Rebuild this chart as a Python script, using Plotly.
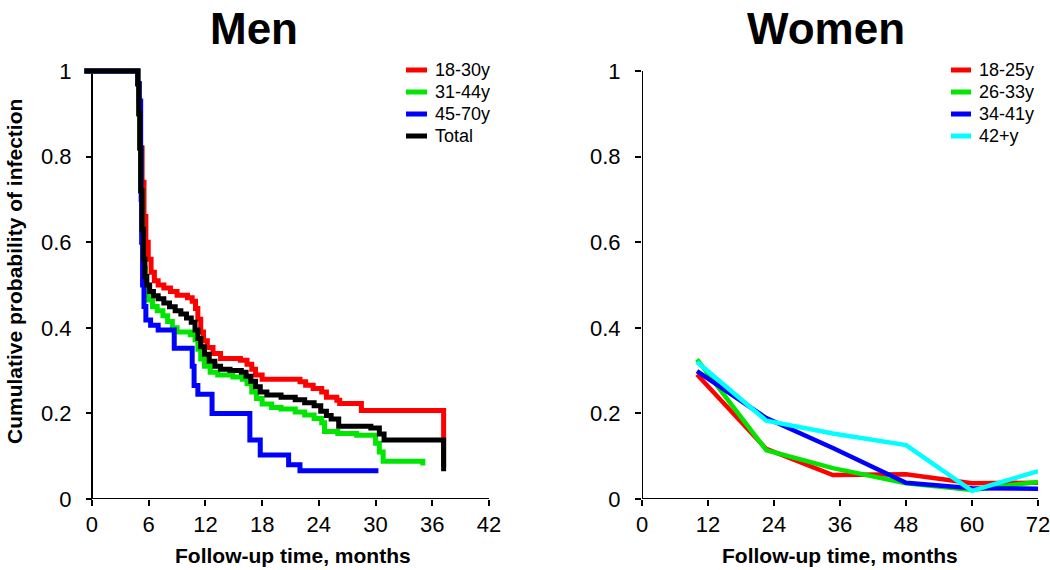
import plotly.graph_objects as go

W, H = 1050, 570

# ---------------- data ----------------
men_groups = ["18-30y", "31-44y", "45-70y", "Total"]
men_colors = ["#FF0000", "#00E600", "#0000FF", "#000000"]

men_t_18_30 = [-0.8, 4.85, 4.95, 5.1, 5.3, 5.5, 5.7, 5.95, 6.25, 6.6, 7.0, 7.6, 8.3, 9.0, 10.1,
               10.6, 10.95, 11.2, 11.5, 11.8, 12.2, 12.8, 13.6, 15.7, 16.4, 16.9, 17.3, 18.0,
               22.0, 22.6, 23.4, 24.3, 24.8, 25.9, 26.2, 28.5, 37.2]
men_s_18_30 = [1.0, 0.97, 0.9, 0.82, 0.74, 0.66, 0.6, 0.56, 0.53, 0.51, 0.5, 0.493, 0.485, 0.476, 0.47,
               0.462, 0.445, 0.42, 0.39, 0.37, 0.354, 0.34, 0.328, 0.324, 0.315, 0.303, 0.29, 0.28,
               0.274, 0.266, 0.258, 0.25, 0.238, 0.231, 0.223, 0.207, 0.075]

men_t_31_44 = [-0.8, 4.85, 4.95, 5.05, 5.15, 5.3, 5.45, 5.65, 5.95, 6.4, 6.9, 7.5, 8.0, 8.5, 9.0,
               10.4, 10.9, 11.2, 11.5, 11.9, 12.5, 13.3, 14.9, 15.9, 16.4, 16.9, 17.4, 18.0, 19.0,
               20.0, 21.5, 22.5, 23.5, 24.3, 24.6, 26.0, 28.0, 30.0, 30.4, 30.8, 35.0]
men_s_31_44 = [1.0, 0.97, 0.9, 0.82, 0.72, 0.62, 0.54, 0.49, 0.465, 0.45, 0.44, 0.428, 0.415, 0.4, 0.39,
               0.384, 0.372, 0.35, 0.327, 0.31, 0.296, 0.29, 0.285, 0.28, 0.27, 0.25, 0.235, 0.222, 0.214,
               0.21, 0.203, 0.196, 0.188, 0.178, 0.158, 0.153, 0.149, 0.13, 0.11, 0.088, 0.078]

men_t_45_70 = [-0.8, 4.85, 5.0, 5.15, 5.2, 5.25, 5.35, 5.5, 5.7, 6.2, 7.0, 8.7, 10.6, 10.8, 11.2,
               12.7, 16.7, 17.8, 20.8, 22.0, 30.3]
men_s_45_70 = [1.0, 0.97, 0.93, 0.82, 0.7, 0.6, 0.5, 0.45, 0.418, 0.406, 0.395, 0.352, 0.31, 0.265, 0.245,
               0.2, 0.138, 0.103, 0.08, 0.066, 0.066]

men_t_total = [-0.8, 4.85, 4.95, 5.05, 5.15, 5.3, 5.45, 5.6, 5.8, 6.1, 6.5, 7.0, 7.6, 8.2, 8.8, 9.4,
               10.0, 10.5, 10.9, 11.2, 11.5, 11.9, 12.4, 13.0, 13.6, 14.6, 15.8, 16.3, 16.8, 17.3,
               17.8, 18.5, 20.0, 21.5, 22.5, 23.5, 24.2, 24.8, 25.3, 26.1, 29.5, 30.4, 30.9, 37.2]
men_s_total = [1.0, 0.97, 0.9, 0.82, 0.72, 0.63, 0.56, 0.52, 0.5, 0.485, 0.475, 0.468, 0.458, 0.449, 0.44, 0.432,
               0.423, 0.413, 0.395, 0.375, 0.356, 0.338, 0.322, 0.31, 0.303, 0.3, 0.296, 0.287, 0.275, 0.262,
               0.25, 0.243, 0.238, 0.232, 0.225, 0.218, 0.205, 0.195, 0.187, 0.17, 0.166, 0.152, 0.138, 0.065]

women_groups = ["18-25y", "26-33y", "34-41y", "42+y"]
women_colors = ["#FF0000", "#00E600", "#0000FF", "#00FFFF"]
women_time = [10, 22.6, 34.7, 48, 60, 72]
women_18_25 = [0.291, 0.117, 0.056, 0.058, 0.037, 0.038]
women_26_33 = [0.326, 0.114, 0.072, 0.037, 0.021, 0.04]
women_34_41 = [0.299, 0.189, 0.119, 0.038, 0.025, 0.024]
women_42_plus = [0.32, 0.183, 0.153, 0.126, 0.019, 0.065]

y_ticks = [0, 0.2, 0.4, 0.6, 0.8, 1]
y_tick_labels = ["0", "0.2", "0.4", "0.6", "0.8", "1"]
men_x_ticks = [0, 6, 12, 18, 24, 30, 36, 42]
women_x_ticks = [0, 12, 24, 36, 48, 60, 72]

# ---------------- helpers (screen px -> paper) ----------------
def sx(p):
    return p / W


def sy(p):
    return (H - p) / H


# ---------------- figure ----------------
FONT = "Liberation Sans, Arial, sans-serif"
fig = go.Figure()

men_t = [men_t_18_30, men_t_31_44, men_t_45_70, men_t_total]
men_s = [men_s_18_30, men_s_31_44, men_s_45_70, men_s_total]
for name, col, t, s in zip(men_groups, men_colors, men_t, men_s):
    fig.add_trace(go.Scatter(x=t, y=s, mode="lines", name=name,
                             line=dict(color=col, width=5, shape="hv"),
                             xaxis="x", yaxis="y", showlegend=False))

women_vals = [women_18_25, women_26_33, women_34_41, women_42_plus]
for name, col, v in zip(women_groups, women_colors, women_vals):
    fig.add_trace(go.Scatter(x=women_time, y=v, mode="lines", name=name,
                             line=dict(color=col, width=4.5),
                             xaxis="x2", yaxis="y2", showlegend=False))

# pixel geometry (screen pixels)
men_x0_px, men_x42_px = 92, 489
ppm = (men_x42_px - men_x0_px) / 42.0
men_left = -1.2
men_left_px = men_x0_px + men_left * ppm
y0_px, y1_px = 499, 71
ytop = 1.03
ytop_px = y0_px - ytop * (y0_px - y1_px)
ydom = [sy(y0_px), sy(ytop_px)]

tickfont = dict(family=FONT, size=22, color="black")
titlefont = dict(family=FONT, size=21, color="black", weight="bold")
common = dict(showgrid=False, zeroline=False, showline=False, ticks="outside",
              ticklen=6, tickwidth=1.5, tickcolor="black", tickfont=tickfont,
              automargin=False, ticklabeloverflow="allow")

fig.update_layout(
    template="none",
    width=W, height=H,
    margin=dict(l=0, r=0, t=0, b=0, autoexpand=False),
    paper_bgcolor="white", plot_bgcolor="white",
    font=dict(family=FONT, color="black"),
    showlegend=False,
    xaxis=dict(domain=[sx(men_left_px), sx(men_x42_px)], range=[men_left, 42], anchor="y",
               tickvals=men_x_ticks, ticktext=[str(v) for v in men_x_ticks], **common),
    yaxis=dict(domain=ydom, range=[0, ytop], anchor="free", position=sx(men_x0_px),
               tickvals=y_ticks, ticktext=y_tick_labels, ticklabelstandoff=10, **common),
    xaxis2=dict(domain=[sx(642), sx(1038)], range=[0, 72], anchor="y2",
                tickvals=women_x_ticks, ticktext=[str(v) for v in women_x_ticks], **common),
    yaxis2=dict(domain=ydom, range=[0, ytop], anchor="x2",
                tickvals=y_ticks, ticktext=y_tick_labels, ticklabelstandoff=10, **common),
)

# axis titles
fig.add_annotation(text="Follow-up time, months", xref="paper", yref="paper",
                   x=sx(293), y=sy(555), xanchor="center", yanchor="middle",
                   showarrow=False, font=titlefont)
fig.add_annotation(text="Follow-up time, months", xref="paper", yref="paper",
                   x=sx(840), y=sy(555), xanchor="center", yanchor="middle",
                   showarrow=False, font=titlefont)
fig.add_annotation(text="Cumulative probability of infection", xref="paper", yref="paper",
                   x=sx(14), y=sy(272), xanchor="center", yanchor="middle", textangle=-90,
                   showarrow=False, font=titlefont)

# axis lines
axis_line = dict(color="black", width=2)
fig.add_shape(type="line", xref="x", yref="y", x0=0, x1=0, y0=0, y1=1, line=axis_line, layer="below")
fig.add_shape(type="line", xref="x", yref="y", x0=0, x1=42, y0=0, y1=0, line=axis_line, layer="below")
fig.add_shape(type="line", xref="x2", yref="y2", x0=0, x1=0, y0=0, y1=1, line=axis_line, layer="below")
fig.add_shape(type="line", xref="x2", yref="y2", x0=0, x1=72, y0=0, y1=0, line=axis_line, layer="below")

# legends (drawn as swatch + text so the row spacing matches)
legend_rows = [70, 92, 114, 136]
legend_font = dict(family=FONT, size=18, color="black")
for (sw0, sw1, tx), names, cols in [((406, 427, 433), men_groups, men_colors),
                                    ((951, 971, 977), women_groups, women_colors)]:
    for ry, name, col in zip(legend_rows, names, cols):
        fig.add_shape(type="line", xref="paper", yref="paper", x0=sx(sw0), x1=sx(sw1),
                      y0=sy(ry), y1=sy(ry), line=dict(color=col, width=5))
        fig.add_annotation(text=name, xref="paper", yref="paper", x=sx(tx), y=sy(ry),
                           xanchor="left", yanchor="middle", showarrow=False, font=legend_font)

# panel titles
title_font = dict(family=FONT, size=44, color="black", weight="bold")
fig.add_annotation(text="Men", xref="paper", yref="paper", x=sx(254), y=sy(28),
                   xanchor="center", yanchor="middle", showarrow=False, font=title_font)
fig.add_annotation(text="Women", xref="paper", yref="paper", x=sx(826), y=sy(28),
                   xanchor="center", yanchor="middle", showarrow=False, font=title_font)

# remove the page's default body margin so the figure fills the 1050x570 view exactly
fig.write_html("out.html", config={"displayModeBar": False},
               post_script="document.body.style.margin='0px';")
